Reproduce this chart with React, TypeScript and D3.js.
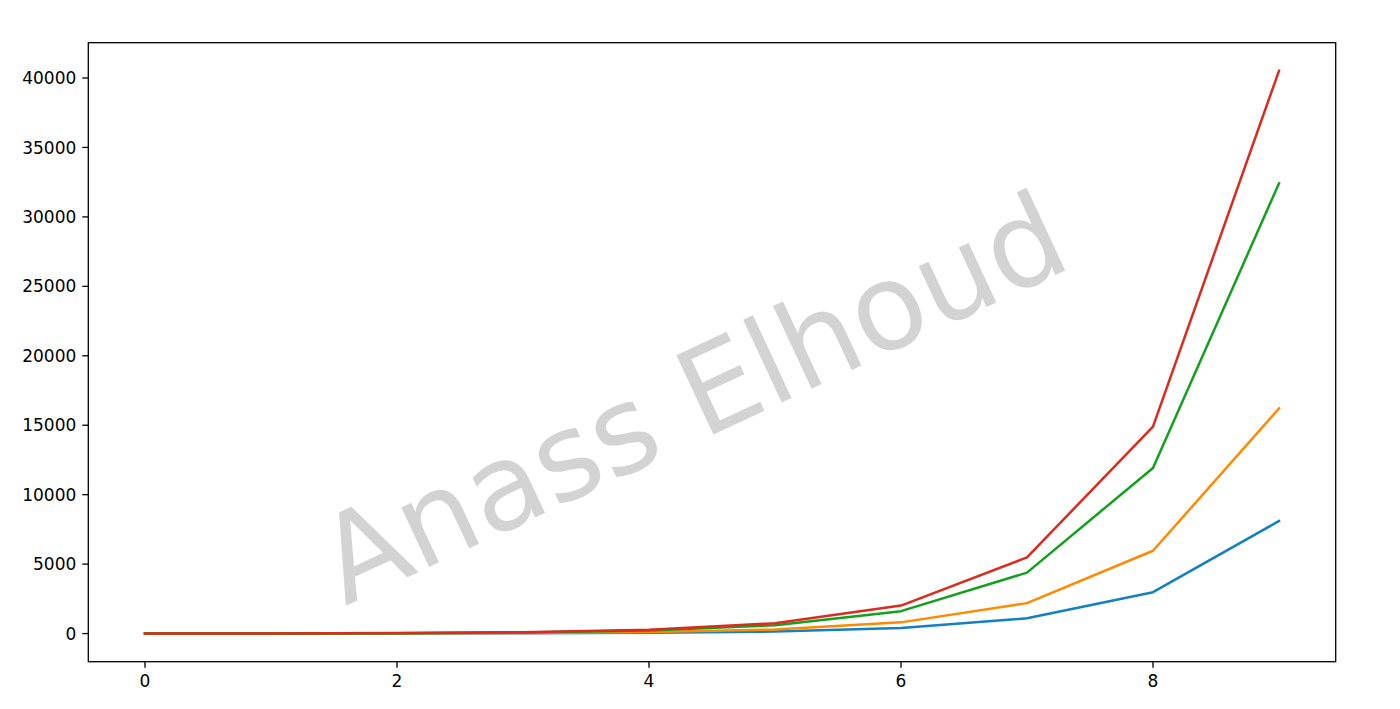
import React from "react";
import * as d3 from "d3";

const xValues = [0, 1, 2, 3, 4, 5, 6, 7, 8, 9];
const blueSeries = [1, 3, 7, 20, 55, 148, 403, 1097, 2981, 8103];
const orangeSeries = [2, 5, 15, 40, 109, 297, 807, 2193, 5962, 16206];
const greenSeries = [4, 11, 30, 80, 218, 594, 1614, 4387, 11924, 32412];
const redSeries = [5, 14, 37, 100, 273, 742, 2017, 5483, 14905, 40515];
const xTicks = [0, 2, 4, 6, 8];
const yTicks = [0, 5000, 10000, 15000, 20000, 25000, 30000, 35000, 40000];
const watermark = "Anass Elhoud";

const seriesList = [
  { values: blueSeries, color: "#1380c0" },
  { values: orangeSeries, color: "#ff8a00" },
  { values: greenSeries, color: "#14a01e" },
  { values: redSeries, color: "#dc2a1e" },
];

const W = 1400;
const H = 709;
const left = 88.3;
const right = 1335.7;
const top = 42.7;
const bottom = 661.7;

export default function App() {
  const x = d3.scaleLinear().domain([-0.45, 9.45]).range([left, right]);
  const y = d3.scaleLinear().domain([-2025, 42541]).range([bottom, top]);
  const line = d3
    .line<number>()
    .x((_, i) => x(xValues[i]))
    .y((d) => y(d));
  const font = "DejaVu Sans, sans-serif";

  return (
    <svg
      width={W}
      height={H}
      style={{ position: "absolute", left: 0, top: 0, background: "#fff" }}
    >
      <rect x={0} y={0} width={W} height={H} fill="#fff" />
      <text
        transform="translate(710,436) rotate(-25)"
        textAnchor="middle"
        fontFamily={font}
        fontSize={120}
        fill="#d3d3d3"
      >
        {watermark}
      </text>
      {seriesList.map((s, i) => (
        <path
          key={i}
          d={line(s.values) || ""}
          fill="none"
          stroke={s.color}
          strokeWidth={2.5}
          strokeLinejoin="round"
          strokeLinecap="square"
        />
      ))}
      <rect
        x={left}
        y={top}
        width={right - left}
        height={bottom - top}
        fill="none"
        stroke="#000"
        strokeWidth={1.3}
      />
      {xTicks.map((t) => (
        <g key={"x" + t}>
          <line x1={x(t)} x2={x(t)} y1={bottom} y2={bottom + 6} stroke="#000" strokeWidth={1.3} />
          <text
            x={x(t)}
            y={bottom + 25}
            textAnchor="middle"
            fontFamily={font}
            fontSize={17}
            fill="#000"
          >
            {t}
          </text>
        </g>
      ))}
      {yTicks.map((t) => (
        <g key={"y" + t}>
          <line x1={left - 6} x2={left} y1={y(t)} y2={y(t)} stroke="#000" strokeWidth={1.3} />
          <text
            x={left - 12}
            y={y(t)}
            dy="0.36em"
            textAnchor="end"
            fontFamily={font}
            fontSize={17}
            fill="#000"
          >
            {t}
          </text>
        </g>
      ))}
    </svg>
  );
}
